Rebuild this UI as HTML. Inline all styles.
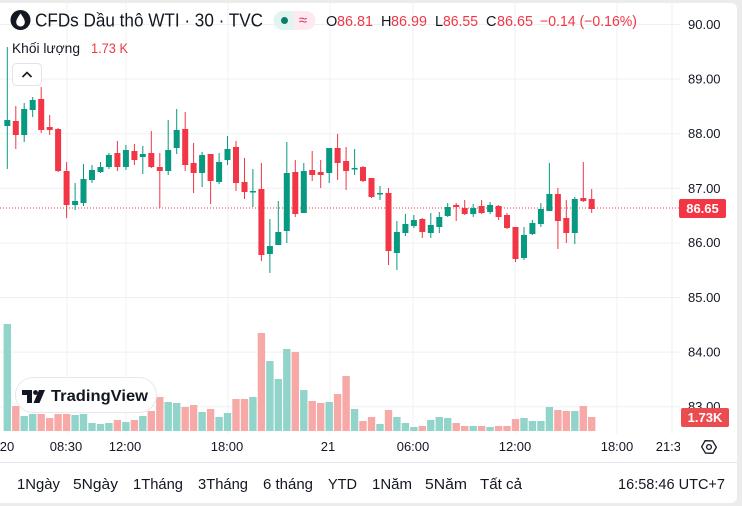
<!DOCTYPE html>
<html><head><meta charset="utf-8"><style>
html,body{margin:0;padding:0;background:#ececec;}
svg{display:block;}
text{font-family:"Liberation Sans","Noto Sans CJK SC",sans-serif;}
</style></head><body>
<svg width="742" height="506" viewBox="0 0 742 506" xmlns="http://www.w3.org/2000/svg">
<rect x="0" y="0" width="742" height="506" fill="#ececec"/>
<path d="M0 3H731a6 6 0 0 1 6 6V497a6 6 0 0 1 -6 6H0z" fill="#ffffff"/>
<!-- grid -->
<g stroke="#eef0f3" stroke-width="1">
<path d="M0 24.5H680M0 79.1H680M0 133.7H680M0 188.3H680M0 242.9H680M0 297.5H680M0 352.1H680M0 406.7H680"/>
<path d="M67 3V434M126 3V434M228 3V434M330 3V434M413 3V434M515 3V434M617 3V434M672 3V434"/>
</g>
<!-- volume -->
<path fill="#91d4c9" d="M3.6 324h7.4v107h-7.4zM20.5 416h7.4v15h-7.4zM29 414h7.4v17h-7.4zM71.4 415h7.4v16h-7.4zM79.8 414h7.4v17h-7.4zM88.3 423h7.4v8h-7.4zM96.8 424h7.4v7h-7.4zM105.2 423h7.4v8h-7.4zM122.2 422h7.4v9h-7.4zM139.1 416h7.4v15h-7.4zM164.5 402h7.4v29h-7.4zM173 403h7.4v28h-7.4zM198.4 412h7.4v19h-7.4zM215.4 417h7.4v14h-7.4zM223.8 413h7.4v18h-7.4zM249.2 397h7.4v34h-7.4zM266.2 361h7.4v70h-7.4zM274.6 379h7.4v52h-7.4zM283.1 349h7.4v82h-7.4zM300.1 390h7.4v41h-7.4zM325.5 402h7.4v29h-7.4zM350.9 409h7.4v22h-7.4zM376.3 424h7.4v7h-7.4zM393.2 417h7.4v14h-7.4zM401.7 423h7.4v8h-7.4zM410.2 427h7.4v4h-7.4zM427.1 420h7.4v11h-7.4zM435.6 417h7.4v14h-7.4zM444 418h7.4v13h-7.4zM469.5 426h7.4v5h-7.4zM486.4 427h7.4v4h-7.4zM520.3 418h7.4v13h-7.4zM528.7 421h7.4v10h-7.4zM537.2 421h7.4v10h-7.4zM545.7 407h7.4v24h-7.4zM571.1 411h7.4v20h-7.4z"/>
<path fill="#f7a9a7" d="M12.1 406h7.4v25h-7.4zM37.5 414h7.4v17h-7.4zM46 418h7.4v13h-7.4zM54.4 414h7.4v17h-7.4zM62.9 414h7.4v17h-7.4zM113.7 420h7.4v11h-7.4zM130.7 420h7.4v11h-7.4zM147.6 411h7.4v20h-7.4zM156.1 397h7.4v34h-7.4zM181.5 407h7.4v24h-7.4zM189.9 405h7.4v26h-7.4zM206.9 409h7.4v22h-7.4zM232.3 399h7.4v32h-7.4zM240.8 399h7.4v32h-7.4zM257.7 333h7.4v98h-7.4zM291.6 352h7.4v79h-7.4zM308.5 401h7.4v30h-7.4zM317 403h7.4v28h-7.4zM333.9 394h7.4v37h-7.4zM342.4 376h7.4v55h-7.4zM359.3 421h7.4v10h-7.4zM367.8 417h7.4v14h-7.4zM384.8 410h7.4v21h-7.4zM418.6 426h7.4v5h-7.4zM452.5 423h7.4v8h-7.4zM461 426h7.4v5h-7.4zM477.9 426h7.4v5h-7.4zM494.9 426h7.4v5h-7.4zM503.3 426h7.4v5h-7.4zM511.8 419h7.4v12h-7.4zM554.2 410h7.4v21h-7.4zM562.6 411h7.4v20h-7.4zM579.6 406h7.4v25h-7.4zM588 417h7.4v14h-7.4z"/>
<!-- dotted last price line -->
<line x1="0" y1="208" x2="679" y2="208" stroke="#F23645" stroke-width="1" stroke-dasharray="1 2"/>
<!-- candles -->
<path fill="none" stroke="#089981" stroke-width="1" d="M7.3 47V169M24.2 103V142M32.7 97V117M75.1 183V210M83.5 164V206M92 165V183M100.5 162V173M108.9 153V169M125.9 145V170M142.8 146V174M168.2 120V175M176.7 109V154M202.1 152V187M219.1 153V184M227.5 136V165M252.9 169V207M269.9 219V273M278.3 201V245M286.8 142V243M303.8 163V213M329.2 148V183M354.6 149V175M380 186V200M396.9 221V270M405.4 214V236M413.9 215V228M430.8 213V238M439.3 212V233M447.7 203V217M473.2 204V217M490.1 202V214M524 227V260M532.4 220V235M540.9 203V227M549.4 163V211M574.8 197V244"/>
<path fill="#089981" d="M4.3 120h6v6h-6zM21.2 109h6v26h-6zM29.7 100h6v10h-6zM72.1 201h6v4h-6zM80.5 179h6v24h-6zM89 170h6v10h-6zM97.5 167h6v5h-6zM105.9 155h6v12h-6zM122.9 150h6v17h-6zM139.8 154h6v3h-6zM165.2 150h6v21h-6zM173.7 130h6v18h-6zM199.1 155h6v18h-6zM216.1 162h6v20h-6zM224.5 149h6v11h-6zM249.9 191h6v1.5h-6zM266.9 246h6v8h-6zM275.3 232h6v13h-6zM283.8 173h6v58h-6zM300.8 171h6v42h-6zM326.2 148h6v25h-6zM351.6 168h6v1.5h-6zM377 193h6v1.5h-6zM393.9 232h6v21h-6zM402.4 224h6v9h-6zM410.9 220h6v6h-6zM427.8 225h6v8h-6zM436.3 217h6v10h-6zM444.7 207h6v9h-6zM470.2 208h6v6h-6zM487.1 205h6v7h-6zM521 235h6v23h-6zM529.4 223h6v11h-6zM537.9 209h6v15h-6zM546.4 194h6v17h-6zM571.8 199h6v34h-6z"/>
<path fill="none" stroke="#F23645" stroke-width="1" d="M15.8 106V149M41.2 87V133M49.7 115V135M58.1 128V172M66.6 162V218M117.4 141V171M134.4 144V165M151.3 131V168M159.8 153V208M185.2 112V171M193.6 143V193M210.6 154V204M236 141V191M244.5 158V199M261.4 163V261M295.3 160V217M312.2 151V181M320.7 160V188M337.6 134V180M346.1 147V190M363 166V182M371.5 178V198M388.5 188V265M422.3 218V238M456.2 203V221M464.7 200V215M481.6 200V214M498.6 205V220M507 213V229M515.5 227V262M557.9 188V249M566.3 200V243M583.3 162V202M591.7 189V213"/>
<path fill="#F23645" d="M12.8 121h6v14h-6zM38.2 99h6v31h-6zM46.7 127h6v3h-6zM55.1 129h6v42h-6zM63.6 171h6v34h-6zM114.4 153h6v14h-6zM131.4 151h6v9h-6zM148.3 153h6v14h-6zM156.8 167h6v4h-6zM182.2 129h6v36h-6zM190.6 163h6v10h-6zM207.6 154h6v27h-6zM233 147h6v36h-6zM241.5 182h6v10h-6zM258.4 189h6v66h-6zM292.3 172h6v42h-6zM309.2 170h6v5h-6zM317.7 172h6v3h-6zM334.6 148h6v15h-6zM343.1 161h6v10h-6zM360 167h6v14h-6zM368.5 178h6v19h-6zM385.5 193h6v58h-6zM419.3 219h6v13h-6zM453.2 205h6v2h-6zM461.7 208h6v6h-6zM478.6 206h6v7h-6zM495.6 206h6v11h-6zM504 215h6v13h-6zM512.5 227h6v32h-6zM554.9 194h6v27h-6zM563.3 218h6v15h-6zM580.3 198h6v3h-6zM588.7 199h6v10h-6z"/>
<!-- header -->
<circle cx="20.5" cy="20" r="10" fill="#131722"/>
<path d="M20.5 13.5C18 17 16.2 19.6 16.2 22.2a4.3 4.3 0 0 0 8.6 0C24.8 19.6 23 17 20.5 13.5z" fill="#ffffff"/>
<text x="35" y="26.5" font-size="18" fill="#131722" textLength="228" lengthAdjust="spacingAndGlyphs">CFDs Dầu thô WTI · 30 · TVC</text>
<path d="M283 11h11v19h-11a9.5 9.5 0 0 1 0 -19z" fill="#e3f3ef"/>
<path d="M294 11h12a9.5 9.5 0 0 1 0 19h-12z" fill="#fde9ee"/>
<circle cx="284.5" cy="20.5" r="3.5" fill="#087f6b"/>
<text x="303" y="25" font-size="15" fill="#d9336a" text-anchor="middle">≈</text>
<g font-size="14.5">
<text x="326" y="26" fill="#131722">O</text><text x="337" y="26" fill="#F23645" textLength="36" lengthAdjust="spacingAndGlyphs">86.81</text>
<text x="381" y="26" fill="#131722">H</text><text x="391" y="26" fill="#F23645" textLength="36" lengthAdjust="spacingAndGlyphs">86.99</text>
<text x="435" y="26" fill="#131722">L</text><text x="443" y="26" fill="#F23645" textLength="35" lengthAdjust="spacingAndGlyphs">86.55</text>
<text x="486" y="26" fill="#131722">C</text><text x="497" y="26" fill="#F23645" textLength="36" lengthAdjust="spacingAndGlyphs">86.65</text>
<text x="540" y="26" fill="#F23645" textLength="97" lengthAdjust="spacingAndGlyphs">−0.14 (−0.16%)</text>
</g>
<text x="12" y="53" font-size="14" fill="#131722" textLength="68" lengthAdjust="spacingAndGlyphs">Khối lượng</text>
<text x="91" y="53" font-size="14" fill="#F23645" textLength="37" lengthAdjust="spacingAndGlyphs">1.73 K</text>
<rect x="12.5" y="63.5" width="29" height="22" rx="4" fill="#ffffff" stroke="#e0e3eb"/>
<polyline points="22.5,77 27,72.5 31.5,77" fill="none" stroke="#131722" stroke-width="1.6"/>
<!-- TradingView logo -->
<rect x="15.5" y="377.5" width="141" height="35" rx="17.5" fill="#ffffff" fill-opacity="0.95" stroke="#e6e8ee"/>
<path d="M22 390h10v13h-5v-8h-5z" fill="#131722"/>
<circle cx="35.5" cy="392.5" r="2.4" fill="#131722"/>
<path d="M39 390h6l-5.5 13h-6z" fill="#131722"/>
<text x="51" y="401" font-size="16" font-weight="bold" fill="#131722" textLength="97" lengthAdjust="spacingAndGlyphs">TradingView</text>
<!-- price axis -->
<g font-size="13" fill="#131722">
<text x="688" y="29">90.00</text>
<text x="688" y="83.6">89.00</text>
<text x="688" y="138">88.00</text>
<text x="688" y="193">87.00</text>
<text x="688" y="247">86.00</text>
<text x="688" y="302">85.00</text>
<text x="688" y="356.6">84.00</text>
<text x="688" y="411">83.00</text>
</g>
<rect x="679" y="199" width="47" height="19" rx="2" fill="#F23645"/>
<text x="702.5" y="213" font-size="13" font-weight="bold" fill="#ffffff" text-anchor="middle">86.65</text>
<rect x="681" y="408" width="48" height="19" rx="2" fill="#ec4c50"/>
<text x="705" y="422" font-size="13" font-weight="bold" fill="#ffffff" text-anchor="middle">1.73K</text>
<!-- time axis -->
<g font-size="13" fill="#131722" text-anchor="middle">
<text x="7" y="451">20</text>
<text x="66" y="451">08:30</text>
<text x="125" y="451">12:00</text>
<text x="227" y="451">18:00</text>
<text x="328" y="451">21</text>
<text x="413" y="451">06:00</text>
<text x="515" y="451">12:00</text>
<text x="617" y="451">18:00</text>
</g>
<svg x="650" y="435" width="30" height="20"><text x="22" y="16" font-size="13" fill="#131722" text-anchor="middle">21:30</text></svg>
<polygon points="709,440 715.5,443.5 715.5,450.5 709,454 702.5,450.5 702.5,443.5" transform="rotate(30 709 447)" fill="none" stroke="#131722" stroke-width="1.3"/>
<circle cx="709" cy="447" r="2.4" fill="none" stroke="#131722" stroke-width="1.3"/>
<line x1="0" y1="462.5" x2="737" y2="462.5" stroke="#e0e3eb"/>
<!-- toolbar -->
<g font-size="14.5" fill="#131722">
<text x="17" y="489" textLength="43" lengthAdjust="spacingAndGlyphs">1Ngày</text>
<text x="73" y="489" textLength="45" lengthAdjust="spacingAndGlyphs">5Ngày</text>
<text x="133" y="489" textLength="50" lengthAdjust="spacingAndGlyphs">1Tháng</text>
<text x="198" y="489" textLength="50" lengthAdjust="spacingAndGlyphs">3Tháng</text>
<text x="263" y="489" textLength="50" lengthAdjust="spacingAndGlyphs">6 tháng</text>
<text x="328" y="489" textLength="29" lengthAdjust="spacingAndGlyphs">YTD</text>
<text x="372" y="489" textLength="40" lengthAdjust="spacingAndGlyphs">1Năm</text>
<text x="425" y="489" textLength="42" lengthAdjust="spacingAndGlyphs">5Năm</text>
<text x="480" y="489" textLength="42" lengthAdjust="spacingAndGlyphs">Tất cả</text>
<text x="618" y="489" textLength="107" lengthAdjust="spacingAndGlyphs">16:58:46 UTC+7</text>
</g>
</svg>
</body></html>
